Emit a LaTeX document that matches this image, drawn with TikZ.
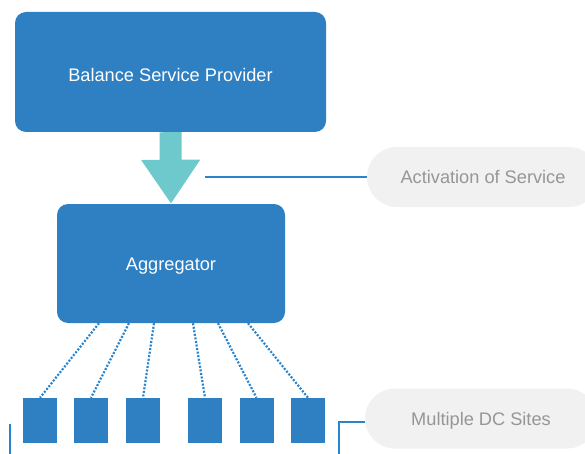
\documentclass[tikz,border=0pt]{standalone}
\usepackage{fontspec}
\setmainfont{Liberation Sans}
\usetikzlibrary{arrows.meta}
\definecolor{boxblue}{RGB}{46,128,194}
\definecolor{lineblue}{RGB}{40,132,204}
\definecolor{arrowteal}{RGB}{110,201,204}
\definecolor{pillfill}{RGB}{241,241,241}
\definecolor{pilltext}{RGB}{150,150,150}
\tikzset{
  bigbox/.style={fill=boxblue, draw=none, rounded corners=11pt, text=white, font=\fontsize{18.2}{21}\selectfont, text depth=0pt},
  site/.style={fill=boxblue, draw=none, minimum width=34pt, minimum height=45pt, inner sep=0pt},
  pill/.style={fill=pillfill, draw=none, rounded corners=30pt, minimum width=232pt, minimum height=60pt, text=pilltext, font=\fontsize{18.2}{21}\selectfont, inner sep=0pt, text depth=0pt},
  link/.style={draw=lineblue, line width=2pt},
  dotlink/.style={draw=lineblue, line width=2.2pt, dash pattern=on 2pt off 1.6pt},
}
\begin{document}
\begin{tikzpicture}[x=1pt,y=-1pt]
\useasboundingbox (0,0) rectangle (585,454);
\clip (0,0) rectangle (585,454);
\node[bigbox, minimum width=311pt, minimum height=120pt, text height=19pt] (bsp) at (170.5,72) {Balance Service Provider};
\node[bigbox, minimum width=228pt, minimum height=119pt, text height=13pt] (agg) at (171,263.5) {Aggregator};
\draw[arrowteal, line width=22pt, -{Triangle[width=56pt,length=44pt]}] (bsp.south) -- (agg.north);
\node[pill, text height=13pt] (act) at (483,177) {Activation of Service};
\coordinate (actstart) at (205,177);
\draw[link] (actstart) -- (act.west);
\node[site] (s1) at (40,420.5) {};
\node[site] (s2) at (91,420.5) {};
\node[site] (s3) at (143,420.5) {};
\node[site] (s4) at (205,420.5) {};
\node[site] (s5) at (256.5,420.5) {};
\node[site] (s6) at (308,420.5) {};
\draw[dotlink] ([xshift=-72pt]agg.south) -- (s1.north);
\draw[dotlink] ([xshift=-42pt]agg.south) -- (s2.north);
\draw[dotlink] ([xshift=-17pt]agg.south) -- (s3.north);
\draw[dotlink] ([xshift=22pt]agg.south) -- (s4.north);
\draw[dotlink] ([xshift=47pt]agg.south) -- (s5.north);
\draw[dotlink] ([xshift=77pt]agg.south) -- (s6.north);
\node[pill, text height=13pt] (dc) at (481,418.5) {Multiple DC Sites};
\coordinate (dcbend) at (339,422);
\coordinate (dcend) at (339,456);
\draw[link] ([yshift=-3.5pt]dc.west) -- (dcbend) -- (dcend);
\coordinate (lefttop) at (10,424);
\coordinate (leftbot) at (10,456);
\draw[link] (lefttop) -- (leftbot);
\end{tikzpicture}
\end{document}
